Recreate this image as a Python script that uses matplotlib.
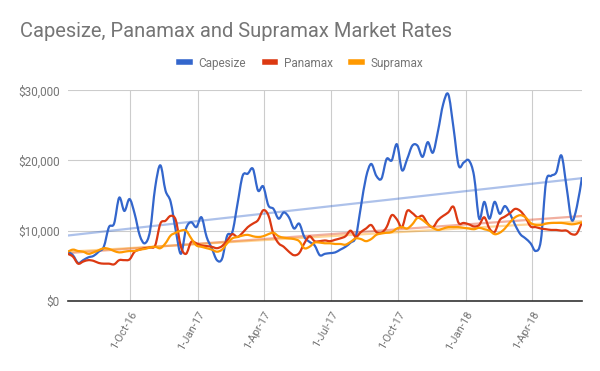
import numpy as np
import pandas as pd
import matplotlib
matplotlib.use("Agg")
import matplotlib.pyplot as plt
import matplotlib.dates as mdates
from matplotlib.path import Path
from matplotlib.patches import PathPatch

# weekly rates, USD/day
week_start = "2016-07-08"
n_weeks = 101

capesize = [
    7000, 6500, 5400, 5800, 6200, 6400, 7000, 7700, 10500, 11000,
    14700, 12800, 14500, 12400, 9300, 8200, 10000, 16200, 19300, 15700,
    14100, 10000, 6700, 10300, 11200, 10500, 11900, 9100, 7500, 5800,
    6000, 9300, 9800, 13800, 17800, 18100, 18800, 15700, 16300, 13600,
    13100, 11700, 12600, 11900, 10300, 11000, 9100, 8400, 7900, 6500,
    6700, 6800, 6900, 7300, 7700, 8300, 9100, 13400, 17600, 19500,
    17800, 17400, 20200, 20000, 22300, 18600, 20200, 22100, 22100, 20500,
    22600, 21100, 24200, 28000, 29400, 24700, 19300, 19700, 20000, 17800,
    11700, 14100, 11700, 14100, 12400, 13500, 12400, 10800, 9500, 8900,
    8200, 7100, 8600, 16900, 17800, 18300, 20700, 16200, 11500, 13400,
    17600,
]
panamax = [
    6700, 6300, 5300, 5600, 5800, 5700, 5400, 5300, 5300, 5200,
    5800, 5800, 5900, 7000, 7300, 7500, 7600, 7900, 11000, 11400,
    12100, 11500, 7700, 6700, 8400, 8200, 7900, 7800, 7700, 7500,
    7800, 8600, 9500, 9100, 9700, 10500, 11000, 11500, 12900, 12200,
    9500, 8200, 7700, 7000, 6500, 6800, 8200, 9200, 8500, 8500,
    8600, 8500, 8700, 8900, 9200, 10000, 9100, 9800, 10300, 10800,
    9800, 9700, 10500, 12200, 11600, 10500, 12800, 12500, 11900, 12100,
    11000, 10500, 11500, 12100, 12600, 13400, 11100, 11100, 10900, 10600,
    10800, 11900, 10300, 9800, 11500, 12000, 12500, 13100, 12800, 11900,
    10600, 10500, 10300, 10200, 10100, 10100, 10000, 10000, 9500, 9600,
    11200,
]
supramax = [
    7000, 7300, 7100, 7000, 6700, 6900, 7200, 7500, 7400, 7100,
    6900, 7000, 7100, 7100, 7300, 7400, 7600, 7700, 7500, 8200,
    9300, 9700, 10000, 10000, 8900, 7900, 7700, 7500, 7300, 7000,
    7300, 8200, 8900, 9100, 9300, 9400, 9200, 9100, 9200, 9500,
    9700, 9200, 9000, 8900, 8800, 8500, 7500, 7700, 8300, 8300,
    8200, 8200, 8100, 8100, 8000, 8400, 8900, 8800, 8500, 8800,
    9400, 9600, 9700, 9800, 10300, 10500, 10300, 10900, 11800, 11500,
    10900, 10400, 10100, 10300, 10500, 10500, 10500, 10400, 10300, 10200,
    10400, 10200, 10000, 9500, 9700, 10300, 11200, 11900, 12200, 11900,
    11100, 10800, 10800, 11000, 11100, 11100, 11100, 11000, 10900, 11000,
    11200,
]

series_names = ["Capesize", "Panamax", "Supramax"]
series_colors = ["#3366cc", "#dc3912", "#ff9900"]
tick_dates = ["2016-10-01", "2017-01-01", "2017-04-01", "2017-07-01",
              "2017-10-01", "2018-01-01", "2018-04-01"]

dates = pd.date_range(week_start, periods=n_weeks, freq="7D")
grey = "#757575"


def smooth_path(x, y):
    # catmull-rom through the points, drawn as bezier segments
    pts = np.column_stack([x, y]).astype(float)
    p = np.vstack([pts[0], pts, pts[-1]])
    verts = [pts[0]]
    codes = [Path.MOVETO]
    for i in range(1, len(p) - 2):
        c1 = p[i] + (p[i + 1] - p[i - 1]) / 6
        c2 = p[i + 1] - (p[i + 2] - p[i]) / 6
        verts += [c1, c2, p[i + 1]]
        codes += [Path.CURVE4] * 3
    return Path(verts, codes)


plt.rcParams["font.family"] = ["Roboto", "DejaVu Sans"]
fig = plt.figure(figsize=(6, 3.71), dpi=100)
ax = fig.add_axes([0.113, 0.189, 0.857, 0.568])

xnum = mdates.date2num(dates)
for name, vals, col in zip(series_names, [capesize, panamax, supramax], series_colors):
    ax.add_patch(PathPatch(smooth_path(xnum, vals), fill=False, edgecolor=col,
                           lw=1.6, zorder=3, joinstyle="round"))
    ax.plot([], [], color=col, label=name)
    # linear trendline
    k, b = np.polyfit(xnum, vals, 1)
    ax.plot(dates, k * xnum + b, color=col, lw=1.6, alpha=0.4, zorder=2)

ax.set_xlim(dates[0], dates[-1])
ax.set_ylim(0, 30000)
ax.set_yticks([0, 10000, 20000, 30000])
ax.set_yticklabels(["$0", "$10,000", "$20,000", "$30,000"])
ticks = pd.to_datetime(tick_dates)
ax.set_xticks(ticks)
ax.set_xticklabels([f"{d.day}-{d:%b-%y}" for d in ticks], rotation=60,
                   ha="right", rotation_mode="anchor")

ax.grid(True, color="#cccccc", lw=0.8, zorder=0)
ax.set_axisbelow(True)
for s in ["top", "right", "left"]:
    ax.spines[s].set_visible(False)
ax.spines["bottom"].set_color("#333333")
ax.spines["bottom"].set_linewidth(1.2)
ax.tick_params(axis="x", length=0, colors=grey, labelsize=8, pad=6)
ax.tick_params(axis="y", length=0, colors=grey, labelsize=8.5, pad=6)

fig.text(0.033, 0.915, "Capesize, Panamax and Supramax Market Rates",
         fontsize=14.5, color=grey, ha="left", va="center")
fig.legend(*ax.get_legend_handles_labels(), loc="center",
           bbox_to_anchor=(0.502, 0.83), ncol=3, frameon=False, fontsize=8.5,
           labelcolor=grey, handlelength=0.9, handletextpad=0.7,
           columnspacing=1.6)
for h in fig.legends[0].legend_handles:
    h.set_linewidth(4)

fig.savefig("out.png", dpi=100)
